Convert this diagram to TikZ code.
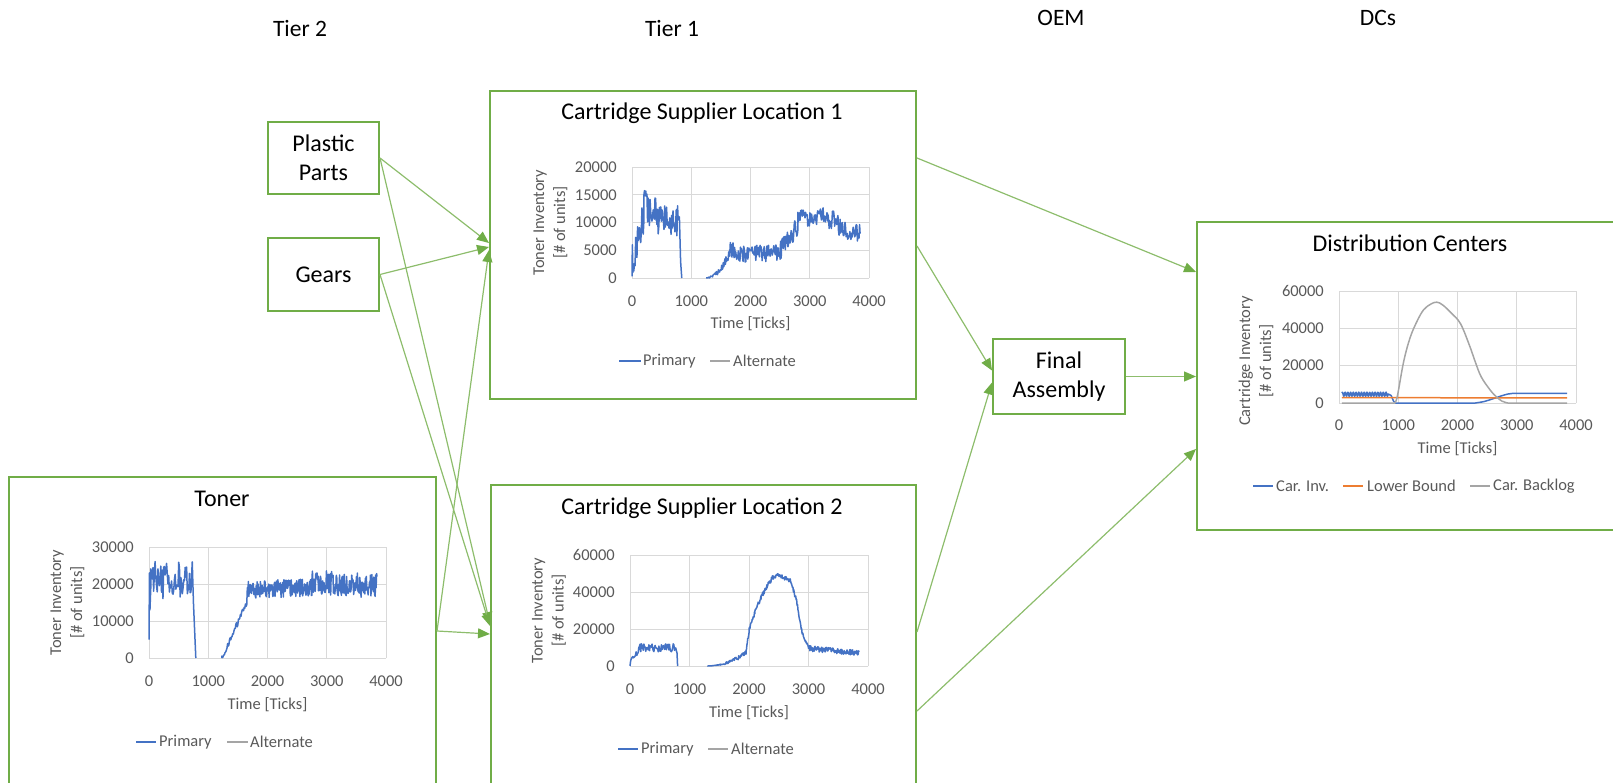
\documentclass[tikz,border=0pt]{standalone}
\usepackage{fontspec}
\setmainfont{Carlito}
\usetikzlibrary{arrows.meta}
\definecolor{boxg}{HTML}{70AD47}
\definecolor{pblue}{HTML}{4472C4}
\definecolor{porange}{HTML}{ED7D31}
\definecolor{pgray}{HTML}{A5A5A5}
\definecolor{gridc}{HTML}{D9D9D9}
\definecolor{txtg}{HTML}{595959}
\newcommand\nseg[6]{-- plot[domain=#1:#2,samples=#6,variable=\xx] (\xx,{max(0,#3+(#4-#3)*(\xx-#1)/(#2-#1)+#5*rand)})}
\tikzset{
 box/.style={draw=boxg, line width=2pt, inner sep=0pt},
 conn/.style={draw=boxg!80, line width=1.2pt, -{Triangle[length=12pt,width=10pt,color=boxg]}},
 tier/.style={font=\fontsize{23.5}{28}\selectfont, text=black, inner sep=0pt},
 ttl/.style={font=\fontsize{24}{29}\selectfont, text=black},
 lbl/.style={font=\fontsize{16.5}{21}\selectfont, text=txtg, inner sep=0pt},
 grd/.style={draw=gridc, line width=0.9pt},
 dat/.style={line width=1.5pt, line join=round},
 leg/.style={line width=2.4pt},
 legthin/.style={line width=1.5pt},
}
\begin{document}
\begin{tikzpicture}[x=1pt,y=-1pt]
\useasboundingbox (0,0) rectangle (1613,783);
\pgfmathsetseed{1234}
% tier labels
\node[tier,anchor=base] (t2) at (300,37) {Tier 2};
\node[tier,anchor=base] (t1) at (672,37) {Tier 1};
\node[tier,anchor=base] (oem) at (1061,26) {OEM};
\node[tier,anchor=base] (dcs) at (1378,26) {DCs};
% boxes
\node[box, ttl, inner sep=0pt, minimum width=111pt, minimum height=72pt, align=center] (pp) at (323.5,158) {Plastic\\Parts};
\node[box, ttl, inner sep=0pt, minimum width=111pt, minimum height=73pt] (gears) at (323.5,274.5) {Gears};
\node[box, ttl, inner sep=0pt, minimum width=132pt, minimum height=75pt, align=center] (fa) at (1059,376.5) {Final\\Assembly};
\node[box, minimum width=426pt, minimum height=308pt] (cs1) at (703,245) {};
\node[box, minimum width=425pt, minimum height=316pt] (cs2) at (703.5,643) {};
\node[box, minimum width=427pt, minimum height=324pt] (toner) at (222.5,639) {};
\node[box, minimum width=426pt, minimum height=308pt] (dc) at (1410,376) {};
% titles
\node[ttl,anchor=base,inner sep=0pt] (cs1t) at (702,120) {Cartridge Supplier Location 1};
\node[ttl,anchor=base,inner sep=0pt] (tonert) at (222,506) {Toner};
\node[ttl,anchor=base,inner sep=0pt] (cs2t) at (702,514) {Cartridge Supplier Location 2};
\node[ttl,anchor=base,inner sep=0pt] (dct) at (1410,252) {Distribution Centers};
% connectors
\draw[conn] (pp.east) -- ([yshift=2pt]cs1.west);
\draw[conn] (gears.east) -- ([yshift=-2pt]cs1.west);
\draw[conn] ([yshift=-155pt]toner.north east) -- ([yshift=-5pt]cs1.west);
\draw[conn] (pp.east) -- ([yshift=-140pt]cs2.north west);
\draw[conn] (gears.east) -- ([yshift=-142pt]cs2.north west);
\draw[conn] ([yshift=-155pt]toner.north east) -- ([yshift=-150pt]cs2.north west);
\draw[conn] ([yshift=-68pt]cs1.north east) -- ([yshift=-51pt]dc.north west);
\draw[conn] ([yshift=-156pt]cs1.north east) -- ([yshift=6pt]fa.west);
\draw[conn] (fa.east) -- (fa.east -| dc.west);
\draw[conn] ([yshift=-148pt]cs2.north east) -- ([yshift=-6pt]fa.west);
\draw[conn] ([yshift=-227pt]cs2.north east) -- ([yshift=-228pt]dc.north west);

% ---------- CS1 chart ----------
\begin{scope}[shift={(632,278)}, x=59.25pt, y=5.55pt]
 \foreach \v in {0,5,...,20} \draw[grd] (0,\v) -- (4,\v);
 \foreach \u in {0,...,4} \draw[grd] (\u,0) -- (\u,20);
 \foreach \v/\l in {0/0,5/5000,10/10000,15/15000,20/20000}
   \node[lbl,anchor=east] (cs1y\v) at ([xshift=-15pt]0,\v) {\l};
 \foreach \u/\l in {0/0,1/1000,2/2000,3/3000,4/4000}
   \node[lbl] (cs1x\u) at ([yshift=-23pt]\u,0) {\l};
 \node[lbl] (cs1xt) at ([yshift=-46pt]2,0) {Time [Ticks]};
 \node[lbl,rotate=90,align=center] (cs1yt) at ([xshift=-81.5pt]0,10) {Toner Inventory\\{}[\# of units]};
 \draw[leg,pblue] ([xshift=-13pt,yshift=-83pt]0,0) -- ([xshift=9pt,yshift=-83pt]0,0);
 \node[lbl,anchor=west] (cs1l1) at ([xshift=11pt,yshift=-83pt]0,0) {Primary};
 \draw[legthin,pgray] ([xshift=78pt,yshift=-83pt]0,0) -- ([xshift=98pt,yshift=-83pt]0,0);
 \node[lbl,anchor=west] (cs1l2) at ([xshift=101pt,yshift=-83pt]0,0) {Alternate};
 \draw[dat,pblue] (0,0.3) -- (0.006,6) -- (0.014,1)
   \nseg{0.02}{0.2}{4}{11.5}{3.2}{18}
   \nseg{0.2}{0.42}{12.5}{12}{3.8}{22}
   \nseg{0.42}{0.78}{11}{10}{3}{34}
   -- (0.8,11) -- (0.82,3) -- (0.84,0);
 \draw[dat,pblue] (1.25,0)
   -- plot[domain=1.25:1.65,samples=45,variable=\xx] (\xx,{max(0,4.5*((\xx-1.25)/0.4)^2+0.9*((\xx-1.25)/0.4)*rand)})
   \nseg{1.65}{1.75}{4.8}{5}{1.6}{12}
   \nseg{1.75}{2.5}{4.3}{4.5}{1.5}{85}
   \nseg{2.5}{2.8}{4.8}{9.5}{1.7}{35}
   \nseg{2.8}{3.3}{10.8}{11.5}{1.7}{55}
   \nseg{3.3}{3.55}{11}{9}{1.9}{28}
   \nseg{3.55}{3.85}{8.5}{8.3}{1.7}{34};
\end{scope}

% ---------- Toner chart ----------
\begin{scope}[shift={(149,658)}, x=59.25pt, y=3.7pt]
 \foreach \v in {0,10,...,30} \draw[grd] (0,\v) -- (4,\v);
 \foreach \u in {0,...,4} \draw[grd] (\u,0) -- (\u,30);
 \foreach \v/\l in {0/0,10/10000,20/20000,30/30000}
   \node[lbl,anchor=east] (tny\v) at ([xshift=-15pt]0,\v) {\l};
 \foreach \u/\l in {0/0,1/1000,2/2000,3/3000,4/4000}
   \node[lbl] (tnx\u) at ([yshift=-23pt]\u,0) {\l};
 \node[lbl] (tnxt) at ([yshift=-47pt]2,0) {Time [Ticks]};
 \node[lbl,rotate=90,align=center] (tnyt) at ([xshift=-81.5pt]0,15) {Toner Inventory\\{}[\# of units]};
 \draw[leg,pblue] ([xshift=-13pt,yshift=-84pt]0,0) -- ([xshift=7pt,yshift=-84pt]0,0);
 \node[lbl,anchor=west] (tnl1) at ([xshift=10pt,yshift=-84pt]0,0) {Primary};
 \draw[legthin,pgray] ([xshift=78pt,yshift=-84pt]0,0) -- ([xshift=99pt,yshift=-84pt]0,0);
 \node[lbl,anchor=west] (tnl2) at ([xshift=101pt,yshift=-84pt]0,0) {Alternate};
 \draw[dat,pblue] (0,5) -- (0.008,23) -- (0.016,13) -- (0.03,19)
   \nseg{0.03}{0.72}{21}{21}{5.5}{58}
   -- (0.73,26) -- (0.75,15) -- (0.79,0);
 \draw[dat,pblue] (1.23,0)
   \nseg{1.23}{1.65}{0}{15}{0.8}{40} -- (1.66,19)
   \nseg{1.67}{2.75}{18.5}{19}{2.4}{140}
   \nseg{2.75}{3.85}{20.5}{19.5}{3.3}{140};
\end{scope}

% ---------- CS2 chart ----------
\begin{scope}[shift={(630,666)}, x=59.5pt, y=1.85pt]
 \foreach \v in {0,20,...,60} \draw[grd] (0,\v) -- (4,\v);
 \foreach \u in {0,...,4} \draw[grd] (\u,0) -- (\u,60);
 \foreach \v/\l in {0/0,20/20000,40/40000,60/60000}
   \node[lbl,anchor=east] (cs2y\v) at ([xshift=-15pt]0,\v) {\l};
 \foreach \u/\l in {0/0,1/1000,2/2000,3/3000,4/4000}
   \node[lbl] (cs2x\u) at ([yshift=-23pt]\u,0) {\l};
 \node[lbl] (cs2xt) at ([yshift=-47pt]2,0) {Time [Ticks]};
 \node[lbl,rotate=90,align=center] (cs2yt) at ([xshift=-81pt]0,30) {Toner Inventory\\{}[\# of units]};
 \draw[leg,pblue] ([xshift=-12pt,yshift=-83pt]0,0) -- ([xshift=8pt,yshift=-83pt]0,0);
 \node[lbl,anchor=west] (cs2l1) at ([xshift=11pt,yshift=-83pt]0,0) {Primary};
 \draw[legthin,pgray] ([xshift=78pt,yshift=-83pt]0,0) -- ([xshift=98pt,yshift=-83pt]0,0);
 \node[lbl,anchor=west] (cs2l2) at ([xshift=101pt,yshift=-83pt]0,0) {Alternate};
 \draw[dat,pblue] (0,0)
   \nseg{0.01}{0.16}{2}{9.5}{1.5}{14}
   \nseg{0.16}{0.78}{9.8}{9.8}{2.2}{60}
   -- (0.79,7) -- (0.8,0);
 \draw[dat,pblue] (1.3,0)
   -- plot[domain=1.3:1.95,samples=70,variable=\xx] (\xx,{max(0,7*((\xx-1.3)/0.65)^2+1.3*((\xx-1.3)/0.65)*rand)})
   \nseg{1.95}{2.0}{8}{19}{1.2}{8}
   \nseg{2.0}{2.1}{19}{29}{1.2}{14}
   \nseg{2.1}{2.2}{29}{37}{1.2}{14}
   \nseg{2.2}{2.3}{37}{43}{1.2}{14}
   \nseg{2.3}{2.4}{43}{48}{1.2}{14}
   \nseg{2.4}{2.5}{48}{49}{1.2}{14}
   \nseg{2.5}{2.6}{49}{47.5}{1.2}{14}
   \nseg{2.6}{2.7}{47.5}{46}{1.2}{14}
   \nseg{2.7}{2.8}{46}{35}{1.2}{14}
   \nseg{2.8}{2.9}{35}{17}{1.2}{14}
   \nseg{2.9}{3.0}{17}{10}{1.2}{14}
   \nseg{3.0}{3.85}{9.5}{7}{1.5}{110};
\end{scope}

% ---------- DC chart ----------
\begin{scope}[shift={(1339,403)}, x=59.25pt, y=1.867pt]
 \foreach \v in {0,20,...,60} \draw[grd] (0,\v) -- (4,\v);
 \foreach \u in {0,...,4} \draw[grd] (\u,0) -- (\u,60);
 \foreach \v/\l in {0/0,20/20000,40/40000,60/60000}
   \node[lbl,anchor=east] (dcy\v) at ([xshift=-15pt]0,\v) {\l};
 \foreach \u/\l in {0/0,1/1000,2/2000,3/3000,4/4000}
   \node[lbl] (dcx\u) at ([yshift=-22pt]\u,0) {\l};
 \node[lbl] (dcxt) at ([yshift=-46pt]2,0) {Time [Ticks]};
 \node[lbl,rotate=90,align=center] (dcyt) at ([xshift=-83pt,yshift=-14pt]0,30) {Cartridge Inventory\\{}[\# of units]};
 \draw[leg,pblue] ([xshift=-86pt,yshift=-83pt]0,0) -- ([xshift=-66pt,yshift=-83pt]0,0);
 \node[lbl,anchor=west] (dcl1) at ([xshift=-63pt,yshift=-83pt]0,0) {Car. Inv.};
 \draw[leg,porange] ([xshift=4pt,yshift=-83pt]0,0) -- ([xshift=24pt,yshift=-83pt]0,0);
 \node[lbl,anchor=west] (dcl2) at ([xshift=28pt,yshift=-83pt]0,0) {Lower Bound};
 \draw[leg,pgray] ([xshift=131pt,yshift=-83pt]0,0) -- ([xshift=151pt,yshift=-83pt]0,0);
 \node[lbl,anchor=west] (dcl3) at ([xshift=154pt,yshift=-83pt]0,0) {Car. Backlog};
 \draw[dat,pblue] plot[domain=0.05:0.83,samples=160,variable=\xx] (\xx,{4.7+1.1*sin(7826*\xx)})
   -- (0.88,4) -- (0.92,1) -- (0.95,0) -- (2.3,0)
   -- plot[smooth] coordinates {(2.3,0) (2.45,0.8) (2.6,2.3) (2.75,3.9) (2.85,4.8) (2.95,5.2)}
   -- (3.85,5.1);
 \draw[dat,porange] (0.05,2.9) -- (3.85,2.7);
 \draw[dat,pgray] (0.05,0) -- (0.93,0)
   -- plot[smooth,tension=0.6] coordinates {(0.93,0) (0.98,3) (1.09,22) (1.2,35) (1.32,44) (1.43,50) (1.55,53) (1.65,54) (1.75,52.5) (1.9,48) (2.05,42.5) (2.2,31) (2.3,22) (2.4,14) (2.55,7) (2.65,3.5) (2.75,1) (2.85,0)}
   -- (3.85,0);
\end{scope}
\end{tikzpicture}
\end{document}
